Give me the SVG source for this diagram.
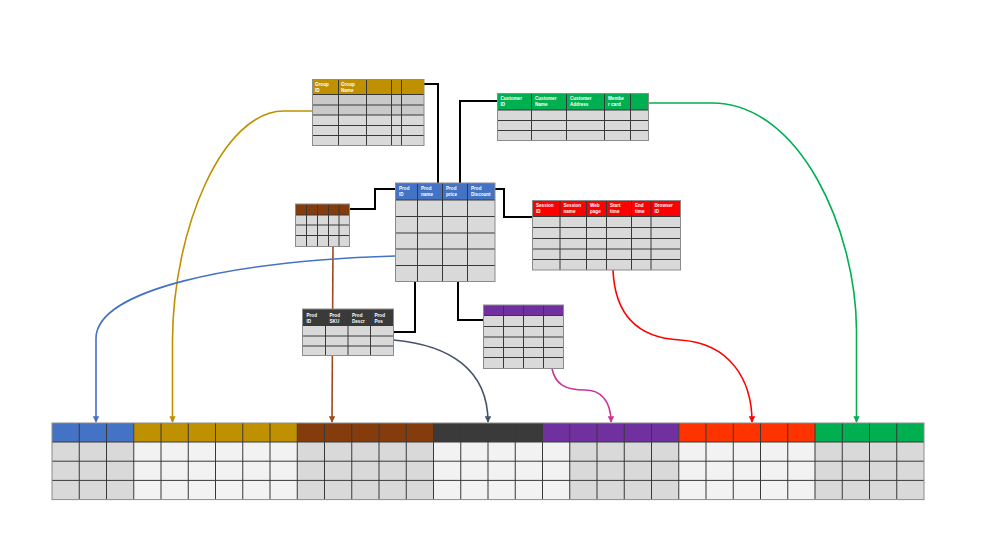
<svg xmlns="http://www.w3.org/2000/svg" width="990" height="556" viewBox="0 0 990 556">
<defs>
<style>
.bg{fill:#ffffff}
.grid{fill:none;stroke:#383838;stroke-width:1}
.outer{fill:none;stroke:#8c8c8c;stroke-width:1}
.body{fill:#d9d9d9}
.body2{fill:#c9c9c9}
.light{fill:#f2f2f2}
.ht{font-family:"Liberation Sans",Arial,sans-serif;font-size:4.6px;fill:#ffffff;font-weight:bold}
.link{fill:none;stroke:#000000;stroke-width:2}
.curve{fill:none;stroke-width:1.6}
</style>
<marker id="a-gold" viewBox="0 0 10 10" refX="9" refY="5" markerWidth="4" markerHeight="4" orient="auto" markerUnits="strokeWidth"><path d="M0,0 L10,5 L0,10 z" fill="#bf9000"/></marker>
<marker id="a-green" viewBox="0 0 10 10" refX="9" refY="5" markerWidth="4" markerHeight="4" orient="auto" markerUnits="strokeWidth"><path d="M0,0 L10,5 L0,10 z" fill="#00b050"/></marker>
<marker id="a-blue" viewBox="0 0 10 10" refX="9" refY="5" markerWidth="4" markerHeight="4" orient="auto" markerUnits="strokeWidth"><path d="M0,0 L10,5 L0,10 z" fill="#4472c4"/></marker>
<marker id="a-red" viewBox="0 0 10 10" refX="9" refY="5" markerWidth="4" markerHeight="4" orient="auto" markerUnits="strokeWidth"><path d="M0,0 L10,5 L0,10 z" fill="#ff0000"/></marker>
<marker id="a-dark" viewBox="0 0 10 10" refX="9" refY="5" markerWidth="4" markerHeight="4" orient="auto" markerUnits="strokeWidth"><path d="M0,0 L10,5 L0,10 z" fill="#44546a"/></marker>
<marker id="a-mag" viewBox="0 0 10 10" refX="9" refY="5" markerWidth="4" markerHeight="4" orient="auto" markerUnits="strokeWidth"><path d="M0,0 L10,5 L0,10 z" fill="#cc3399"/></marker>
<marker id="a-brown" viewBox="0 0 10 10" refX="9" refY="5" markerWidth="4" markerHeight="4" orient="auto" markerUnits="strokeWidth"><path d="M0,0 L10,5 L0,10 z" fill="#9e4a1c"/></marker>
</defs>
<rect class="bg" x="0" y="0" width="990" height="556"/>

<g id="connectors">
<path class="link" d="M424,84 H438 V183"/>
<path class="link" d="M497.5,101 H460 V183"/>
<path class="link" d="M349.5,209 H375 V189 H395.5"/>
<path class="link" d="M495,189 H504 V217 H532.5"/>
<path class="link" d="M415,281.5 V332 H393.5"/>
<path class="link" d="M458,281.5 V320 H483.5"/>
<path class="curve" stroke="#9e4a1c" d="M333,246.5 L332,422" marker-end="url(#a-brown)"/>
<path class="curve" stroke="#bf9000" d="M312.5,111 H284 C222,111 173,230 172.5,340 V422" marker-end="url(#a-gold)"/>
<path class="curve" stroke="#00b050" d="M648.5,103 H712 C800,103 856,230 856.5,330 V422" marker-end="url(#a-green)"/>
<path class="curve" stroke="#4472c4" d="M395.5,256 C230,261 97,290 96,338 V422" marker-end="url(#a-blue)"/>
<path class="curve" stroke="#ff0000" d="M613,270 C615,318 640,338 680,340 C730,343 752,380 752,422" marker-end="url(#a-red)"/>
<path class="curve" stroke="#44546a" d="M393.5,340 C450,345 488,370 488,422" marker-end="url(#a-dark)"/>
<path class="curve" stroke="#cc3399" d="M552,368.5 C555,384 565,390 585,390 C600,390 611,400 611,422" marker-end="url(#a-mag)"/>
</g>

<g id="group-table">
<rect x="312.5" y="79.5" width="111.5" height="15" fill="#bf9000"/>
<rect class="body2" x="312.5" y="94.5" width="111.5" height="20.5"/>
<rect class="body" x="312.5" y="115" width="111.5" height="30.5"/>
<path class="grid" d="M312.5,94.5 H424 M312.5,105 H424 M312.5,115 H424 M312.5,125.5 H424 M312.5,135.5 H424 M338.5,79.5 V145.5 M366.5,79.5 V145.5 M391.5,79.5 V145.5 M401.5,79.5 V145.5"/>
<rect class="outer" x="312.5" y="79.5" width="111.5" height="66"/>
<text class="ht" x="315" y="86">Group</text><text class="ht" x="315" y="91.5">ID</text>
<text class="ht" x="341" y="86">Group</text><text class="ht" x="341" y="91.5">Name</text>
</g>

<g id="customer-table">
<rect x="497.5" y="93.5" width="151" height="16.5" fill="#00b050"/>
<rect class="body" x="497.5" y="110" width="151" height="30.5"/>
<path class="grid" d="M497.5,110 H648.5 M497.5,120.5 H648.5 M497.5,130.5 H648.5 M531.5,93.5 V140.5 M566.5,93.5 V140.5 M604.5,93.5 V140.5 M630.5,93.5 V140.5"/>
<rect class="outer" x="497.5" y="93.5" width="151" height="47"/>
<text class="ht" x="500.5" y="100">Customer</text><text class="ht" x="500.5" y="106">ID</text>
<text class="ht" x="535" y="100">Customer</text><text class="ht" x="535" y="106">Name</text>
<text class="ht" x="570" y="100">Customer</text><text class="ht" x="570" y="106">Address</text>
<text class="ht" x="608" y="100">Membe</text><text class="ht" x="608" y="106">r card</text>
</g>

<g id="product-table">
<rect x="395.5" y="183" width="99.5" height="17" fill="#4472c4"/>
<rect class="body" x="395.5" y="200" width="99.5" height="81.5"/>
<path class="grid" d="M395.5,200 H495 M395.5,216.5 H495 M395.5,233 H495 M395.5,249 H495 M395.5,265.5 H495 M417.5,183 V281.5 M442.5,183 V281.5 M467.5,183 V281.5"/>
<rect class="outer" x="395.5" y="183" width="99.5" height="98.5"/>
<text class="ht" x="399" y="189.5">Prod</text><text class="ht" x="399" y="195.5">ID</text>
<text class="ht" x="421" y="189.5">Prod</text><text class="ht" x="421" y="195.5">name</text>
<text class="ht" x="446" y="189.5">Prod</text><text class="ht" x="446" y="195.5">price</text>
<text class="ht" x="471" y="189.5">Prod</text><text class="ht" x="471" y="195.5">Discount</text>
</g>

<g id="session-table">
<rect x="532.5" y="200.5" width="148" height="16" fill="#ff0000"/>
<rect class="body" x="532.5" y="216.5" width="148" height="53.5"/>
<path class="grid" d="M532.5,216.5 H680.5 M532.5,227.5 H680.5 M532.5,238.5 H680.5 M532.5,249 H680.5 M532.5,259.5 H680.5 M560,200.5 V270 M586.5,200.5 V270 M606.5,200.5 V270 M631.5,200.5 V270 M651,200.5 V270"/>
<rect class="outer" x="532.5" y="200.5" width="148" height="69.5"/>
<text class="ht" x="536" y="207">Session</text><text class="ht" x="536" y="213">ID</text>
<text class="ht" x="563.5" y="207">Session</text><text class="ht" x="563.5" y="213">name</text>
<text class="ht" x="590" y="207">Web</text><text class="ht" x="590" y="213">page</text>
<text class="ht" x="610" y="207">Start</text><text class="ht" x="610" y="213">time</text>
<text class="ht" x="635" y="207">End</text><text class="ht" x="635" y="213">time</text>
<text class="ht" x="654.5" y="207">Browser</text><text class="ht" x="654.5" y="213">ID</text>
</g>

<g id="brown-table">
<rect x="295.5" y="204" width="54" height="11" fill="#843c0c"/>
<rect class="body" x="295.5" y="215" width="54" height="31.5"/>
<path class="grid" d="M295.5,215 H349.5 M295.5,225 H349.5 M295.5,235.5 H349.5 M306.5,204 V246.5 M317.5,204 V246.5 M328.5,204 V246.5 M339,204 V246.5"/>
<rect class="outer" x="295.5" y="204" width="54" height="42.5"/>
</g>

<g id="sku-table">
<rect x="302.5" y="309" width="91" height="16.5" fill="#3a3a3a"/>
<rect class="body" x="302.5" y="325.5" width="91" height="30"/>
<path class="grid" d="M302.5,325.5 H393.5 M302.5,336 H393.5 M302.5,346 H393.5 M325.5,309 V355.5 M348,309 V355.5 M370.5,309 V355.5"/>
<rect class="outer" x="302.5" y="309" width="91" height="46.5"/>
<text class="ht" x="306.5" y="316.5">Prod</text><text class="ht" x="306.5" y="322.5">ID</text>
<text class="ht" x="329.5" y="316.5">Prod</text><text class="ht" x="329.5" y="322.5">SKU</text>
<text class="ht" x="352" y="316.5">Prod</text><text class="ht" x="352" y="322.5">Descr</text>
<text class="ht" x="374.5" y="316.5">Prod</text><text class="ht" x="374.5" y="322.5">Pos</text>
</g>

<g id="purple-table">
<rect x="483.5" y="305" width="80" height="10.5" fill="#7030a0"/>
<rect class="body" x="483.5" y="315.5" width="80" height="53"/>
<path class="grid" d="M483.5,315.5 H563.5 M483.5,326.5 H563.5 M483.5,337 H563.5 M483.5,347.5 H563.5 M483.5,357.5 H563.5 M503.5,305 V368.5 M523.5,305 V368.5 M543.5,305 V368.5"/>
<rect class="outer" x="483.5" y="305" width="80" height="63.5"/>
</g>

<g id="target-table">
<rect x="52" y="423" width="81.75" height="19" fill="#4472c4"/>
<rect x="133.75" y="423" width="163.5" height="19" fill="#bf9000"/>
<rect x="297.25" y="423" width="136.25" height="19" fill="#843c0c"/>
<rect x="433.5" y="423" width="109" height="19" fill="#3a3a3a"/>
<rect x="542.5" y="423" width="136.25" height="19" fill="#7030a0"/>
<rect x="678.75" y="423" width="136.25" height="19" fill="#ff3300"/>
<rect x="815" y="423" width="109" height="19" fill="#00b050"/>
<rect class="body" x="52" y="442" width="81.75" height="57.6"/>
<rect class="light" x="133.75" y="442" width="163.5" height="57.6"/>
<rect class="body" x="297.25" y="442" width="136.25" height="57.6"/>
<rect class="light" x="433.5" y="442" width="136.25" height="57.6"/>
<rect class="body" x="569.75" y="442" width="109" height="57.6"/>
<rect class="light" x="678.75" y="442" width="136.25" height="57.6"/>
<rect class="body" x="815" y="442" width="109" height="57.6"/>
<path class="grid" d="M52,442 H924 M52,461.2 H924 M52,480.4 H924 M79.25,423 V499.6 M106.5,423 V499.6 M133.75,423 V499.6 M161,423 V499.6 M188.25,423 V499.6 M215.5,423 V499.6 M242.75,423 V499.6 M270,423 V499.6 M297.25,423 V499.6 M324.5,423 V499.6 M351.75,423 V499.6 M379,423 V499.6 M406.25,423 V499.6 M433.5,423 V499.6 M460.75,423 V499.6 M488,423 V499.6 M515.25,423 V499.6 M542.5,423 V499.6 M569.75,423 V499.6 M597,423 V499.6 M624.25,423 V499.6 M651.5,423 V499.6 M678.75,423 V499.6 M706,423 V499.6 M733.25,423 V499.6 M760.5,423 V499.6 M787.75,423 V499.6 M815,423 V499.6 M842.25,423 V499.6 M869.5,423 V499.6 M896.75,423 V499.6"/>
<rect class="outer" x="52" y="423" width="872" height="76.6"/>
</g>
</svg>
